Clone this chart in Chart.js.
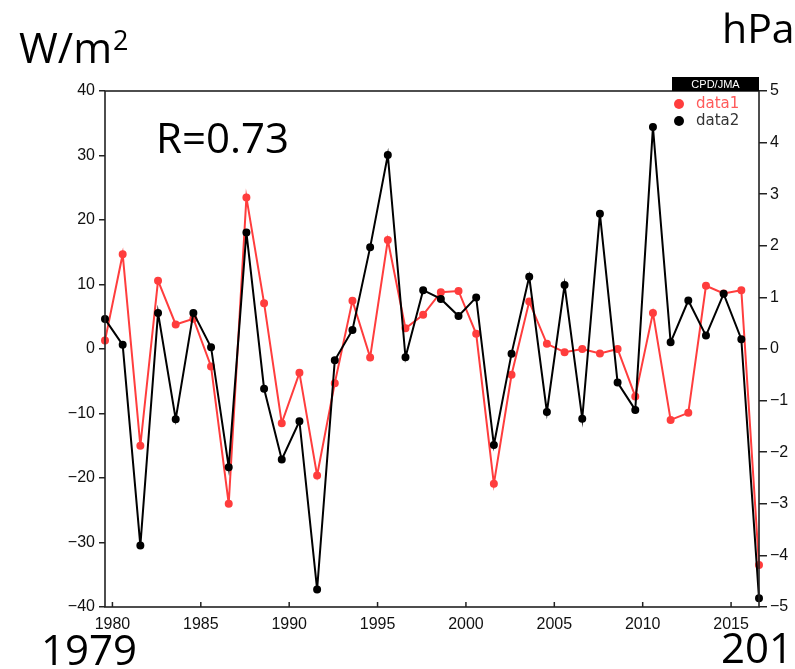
<!DOCTYPE html>
<html>
<head>
<meta charset="utf-8">
<script src="https://cdn.jsdelivr.net/npm/chart.js@4"></script>
<style>
  body { margin: 0; background: #fff; }
  #wrap { width: 795px; height: 669px; position: relative; }
</style>
</head>
<body>
<div id="wrap"><canvas id="chart"></canvas></div>
<script>
// Years 1979-2016, plotted a bit past the start of each year
const years = [1979, 1980, 1981, 1982, 1983, 1984, 1985, 1986, 1987, 1988,
               1989, 1990, 1991, 1992, 1993, 1994, 1995, 1996, 1997, 1998,
               1999, 2000, 2001, 2002, 2003, 2004, 2005, 2006, 2007, 2008,
               2009, 2010, 2011, 2012, 2013, 2014, 2015, 2016];

// data1 (W/m2, left axis)
const data1 = [1.3, 14.7, -15.0, 10.6, 3.8, 4.7, -2.7, -24.0, 23.5, 7.1,
               -11.5, -3.7, -19.6, -5.3, 7.5, -1.3, 16.9, 3.2, 5.3, 8.8,
               9.0, 2.35, -20.9, -4.0, 7.35, 0.8, -0.5, 0.0, -0.7, 0.0,
               -7.35, 5.6, -11.0, -9.9, 9.8, 8.6, 9.1, -33.5];

// data2 (hPa, right axis)
const data2 = [0.58, 0.08, -3.81, 0.70, -1.36, 0.70, 0.035, -2.29, 2.26, -0.77,
               -2.14, -1.40, -4.66, -0.22, 0.37, 1.97, 3.76, -0.16, 1.14, 0.97,
               0.64, 1.0, -1.86, -0.09, 1.40, -1.22, 1.24, -1.35, 2.62, -0.65,
               -1.18, 4.30, 0.13, 0.94, 0.26, 1.07, 0.19, -4.83];

const xTicks = [1980, 1985, 1990, 1995, 2000, 2005, 2010, 2015];
const leftTicks = [-40, -30, -20, -10, 0, 10, 20, 30, 40];
const rightTicks = [-5, -4, -3, -2, -1, 0, 1, 2, 3, 4, 5];

const xOffset = 0.58;
const RED = '#ff3d3d';

function toPoints(vals) {
    return vals.map((v, i) => ({ x: years[i] + xOffset, y: v }));
}

function minusFmt(v) {
    return v < 0 ? '\u2212' + Math.abs(v) : String(v);
}

const tickFont = { family: 'Liberation Sans', size: 16 };

const decorPlugin = {
    id: 'decor',
    afterDraw(chart) {
        const ctx = chart.ctx;
        const a = chart.chartArea;
        const xs = chart.scales.x;
        ctx.save();

        // frame
        ctx.strokeStyle = '#222';
        ctx.lineWidth = 1.6;
        ctx.strokeRect(a.left, a.top, a.right - a.left, a.bottom - a.top);

        // inward ticks on bottom axis
        ctx.lineWidth = 1.5;
        xTicks.forEach(t => {
            const px = xs.getPixelForValue(t);
            ctx.beginPath();
            ctx.moveTo(px, a.bottom);
            ctx.lineTo(px, a.bottom - 5);
            ctx.stroke();
        });

        // CPD/JMA tag
        ctx.fillStyle = '#000';
        ctx.fillRect(a.right - 87, a.top - 14, 87, 14);
        ctx.fillStyle = '#fff';
        ctx.font = '11px "Liberation Sans"';
        ctx.textAlign = 'center';
        ctx.textBaseline = 'middle';
        ctx.fillText('CPD/JMA', a.right - 43.5, a.top - 6.5);

        // legend
        ctx.textAlign = 'left';
        ctx.font = '15px "DejaVu Sans"';
        ctx.fillStyle = RED;
        ctx.beginPath(); ctx.arc(679, 104, 5, 0, Math.PI * 2); ctx.fill();
        ctx.fillStyle = '#ff5a5a';
        ctx.fillText('data1', 696, 104);
        ctx.fillStyle = '#000';
        ctx.beginPath(); ctx.arc(679, 121, 5, 0, Math.PI * 2); ctx.fill();
        ctx.fillStyle = '#333';
        ctx.fillText('data2', 696, 121);

        // big labels
        ctx.fillStyle = '#000';
        ctx.textBaseline = 'alphabetic';
        ctx.font = '42px "Open Sans"';
        ctx.fillText('W/m', 19, 63);
        const wm = ctx.measureText('W/m').width;
        ctx.font = '27px "Open Sans"';
        ctx.fillText('2', 19 + wm + 1, 50);
        ctx.font = '41px "Open Sans"';
        ctx.fillText('hPa', 722, 43);
        ctx.font = '42px "Open Sans"';
        ctx.fillText('R=0.73', 156, 153);
        ctx.fillText('1979', 41, 665);
        ctx.fillText('2016', 721, 663);

        ctx.restore();
    }
};

const ctx = document.getElementById('chart').getContext('2d');
new Chart(ctx, {
    type: 'line',
    data: {
        datasets: [
            {
                label: 'data1',
                data: toPoints(data1),
                yAxisID: 'y',
                borderColor: RED,
                backgroundColor: RED,
                borderWidth: 2,
                pointRadius: 3,
                pointHoverRadius: 3,
                tension: 0,
                order: 1,
                clip: false
            },
            {
                label: 'data2',
                data: toPoints(data2),
                yAxisID: 'y2',
                borderColor: '#000',
                backgroundColor: '#000',
                borderWidth: 2,
                pointRadius: 3,
                pointHoverRadius: 3,
                tension: 0,
                order: 0,
                clip: false
            }
        ]
    },
    options: {
        responsive: true,
        maintainAspectRatio: false,
        animation: false,
        events: [],
        layout: { padding: { top: 91, left: 0, right: 0, bottom: 0 } },
        plugins: {
            legend: { display: false },
            tooltip: { enabled: false }
        },
        scales: {
            x: {
                type: 'linear',
                min: years[0] + xOffset,
                max: years[years.length - 1] + xOffset,
                afterBuildTicks: s => { s.ticks = xTicks.map(v => ({ value: v })); },
                afterFit: s => { s.height = 62; s.paddingLeft = 0; s.paddingRight = 0; },
                grid: { display: false, drawTicks: false },
                border: { display: false },
                ticks: { color: '#111', font: tickFont, padding: 8, maxRotation: 0, autoSkip: false,
                         callback: v => String(v) }
            },
            y: {
                position: 'left',
                min: -40,
                max: 40,
                afterBuildTicks: s => { s.ticks = leftTicks.map(v => ({ value: v })); },
                afterFit: s => { s.width = 105; s.paddingTop = 0; s.paddingBottom = 0; },
                grid: { drawOnChartArea: false, drawTicks: true, tickLength: 6, color: '#222', lineWidth: 1.5 },
                border: { display: false },
                ticks: { color: '#111', font: tickFont, padding: 4, callback: v => minusFmt(v) }
            },
            y2: {
                position: 'right',
                min: -5,
                max: 5,
                afterBuildTicks: s => { s.ticks = rightTicks.map(v => ({ value: v })); },
                afterFit: s => { s.width = 36; s.paddingTop = 0; s.paddingBottom = 0; },
                grid: { drawOnChartArea: false, drawTicks: true, tickLength: 8, color: '#222', lineWidth: 1.5 },
                border: { display: false },
                ticks: { color: '#111', font: tickFont, padding: 3, callback: v => minusFmt(v) }
            }
        }
    },
    plugins: [decorPlugin]
});
</script>
</body>
</html>
